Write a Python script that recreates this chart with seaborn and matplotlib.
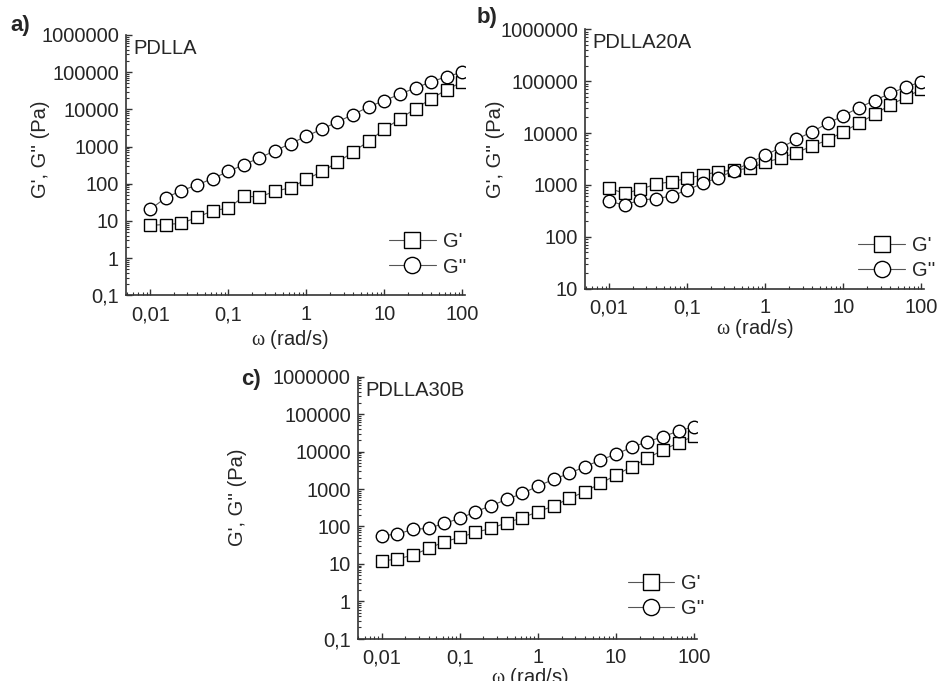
import numpy as np
import pandas as pd
import matplotlib
matplotlib.use('Agg')
import matplotlib.pyplot as plt
import matplotlib.ticker as mticker
import seaborn as sns

# Angular frequency (rad/s), 5 points per decade
omega = [0.01, 0.0158, 0.0251, 0.0398, 0.0631, 0.1, 0.158, 0.251, 0.398, 0.631,
         1, 1.58, 2.51, 3.98, 6.31, 10, 15.8, 25.1, 39.8, 63.1, 100]

# PDLLA
pdlla_g1 = [7.6, 8.0, 8.6, 12.4, 18.8, 22, 45.5, 44.6, 62, 79,
            130, 213, 372, 721, 1393, 2925, 5540, 10500, 19100, 34000, 54700]
pdlla_g2 = [20.4, 42, 65, 92, 138, 213, 323, 497, 767, 1205,
            1897, 2925, 4600, 7240, 11650, 17200, 25500, 37700, 54700, 76000, 99300]

# PDLLA20A
pdlla20a_g1 = [860, 688, 822, 1042, 1156, 1340, 1555, 1803, 1941, 2090,
               2729, 3305, 4190, 5630, 7350, 10600, 15400, 23000, 34700, 48900, 69700]
pdlla20a_g2 = [483, 410, 513, 543, 612, 798, 1074, 1380, 1884, 2687,
               3775, 5230, 7570, 10640, 15400, 21600, 30900, 42200, 58400, 76200, 98000]

# PDLLA30B
pdlla30b_g1 = [11.9, 13.5, 17.2, 26, 39, 51, 69.5, 88.8, 126, 171,
               248, 351, 562, 848, 1413, 2360, 3945, 6580, 11000, 17260, 26000]
pdlla30b_g2 = [56.5, 62.7, 83.5, 88.8, 121, 164, 248, 358, 529, 764,
               1200, 1807, 2616, 3945, 5940, 8590, 12950, 18350, 24950, 35400, 46200]

sns.set_style('ticks')
plt.rcParams['font.family'] = ['Liberation Sans', 'DejaVu Sans']
# upright serif omega as in the original figure
plt.rcParams['mathtext.fontset'] = 'custom'
plt.rcParams['mathtext.rm'] = 'Liberation Serif'
plt.rcParams['mathtext.it'] = 'Liberation Serif:italic'

fig = plt.figure(figsize=(9.39, 6.81), dpi=100)

panels = [
    # name, g1, g2, rect, ylim, ylabel pos, xlabel pos, legend anchor
    ('PDLLA', pdlla_g1, pdlla_g2, [0.1342, 0.5664, 0.361, 0.3823], (0.1, 1e6),
     (-0.224, 0.561), (0.484, -0.125), (1.003, 0.072)),
    ('PDLLA20A', pdlla20a_g1, pdlla20a_g2, [0.623, 0.576, 0.361, 0.381], (10, 1e6),
     (-0.236, 0.537), (0.501, -0.108), (1.033, 0.035)),
    ('PDLLA30B', pdlla30b_g1, pdlla30b_g2, [0.381, 0.0621, 0.361, 0.3847], (0.1, 1e6),
     (-0.327, 0.541), (0.508, -0.104), (1.023, 0.08)),
]


def comma_fmt(v, pos):
    return ('%.10g' % v).replace('.', ',')


for name, g1, g2, rect, ylim, ylab, xlab, leg in panels:
    ax = fig.add_axes(rect)
    df = pd.DataFrame({'omega': omega, 'g1': g1, 'g2': g2})
    style = dict(color='#555555', linewidth=0.8, markerfacecolor='white',
                 markeredgecolor='black', markeredgewidth=1.0, markersize=9)
    sns.lineplot(data=df, x='omega', y='g1', marker='s', label="G'", ax=ax, **style)
    sns.lineplot(data=df, x='omega', y='g2', marker='o', label="G''", ax=ax, **style)

    ax.set_xscale('log')
    ax.set_yscale('log')
    ax.set_xlim(0.0049, 108)
    ax.set_ylim(*ylim)

    for a in (ax.xaxis, ax.yaxis):
        a.set_major_locator(mticker.LogLocator(base=10, numticks=20))
        a.set_minor_locator(mticker.LogLocator(base=10, subs=np.arange(2, 10), numticks=20))
        a.set_major_formatter(mticker.FuncFormatter(comma_fmt))
        a.set_minor_formatter(mticker.NullFormatter())

    ax.tick_params(which='major', direction='in', length=4, width=1, labelsize=14.5,
                   color='#333333')
    ax.tick_params(which='minor', direction='in', length=2, width=0.8, color='#333333')
    ax.tick_params(axis='x', pad=7)
    ax.tick_params(axis='y', pad=5)

    sns.despine(ax=ax)
    for s in ('left', 'bottom'):
        ax.spines[s].set_linewidth(1.2)
        ax.spines[s].set_color('#333333')

    ax.set_ylabel("G', G'' (Pa)", fontsize=14.5)
    ax.yaxis.set_label_coords(*ylab)
    ax.set_xlabel(r'$\mathrm{\omega}$ (rad/s)', fontsize=14.5)
    ax.xaxis.set_label_coords(*xlab)

    ax.text(0.022, 0.985, name, transform=ax.transAxes, fontsize=14.5,
            ha='left', va='top')

    ax.legend(loc='lower right', bbox_to_anchor=leg, frameon=False, fontsize=14.5,
              borderaxespad=0, borderpad=0, handlelength=2.3, handletextpad=0.35,
              labelspacing=0.3, markerscale=1.3)

fig.text(0.022, 0.963, 'a)', fontsize=16, fontweight='bold', ha='center', va='center')
fig.text(0.519, 0.974, 'b)', fontsize=16, fontweight='bold', ha='center', va='center')
fig.text(0.267, 0.443, 'c)', fontsize=16, fontweight='bold', ha='center', va='center')

fig.savefig('out.png', dpi=100)
